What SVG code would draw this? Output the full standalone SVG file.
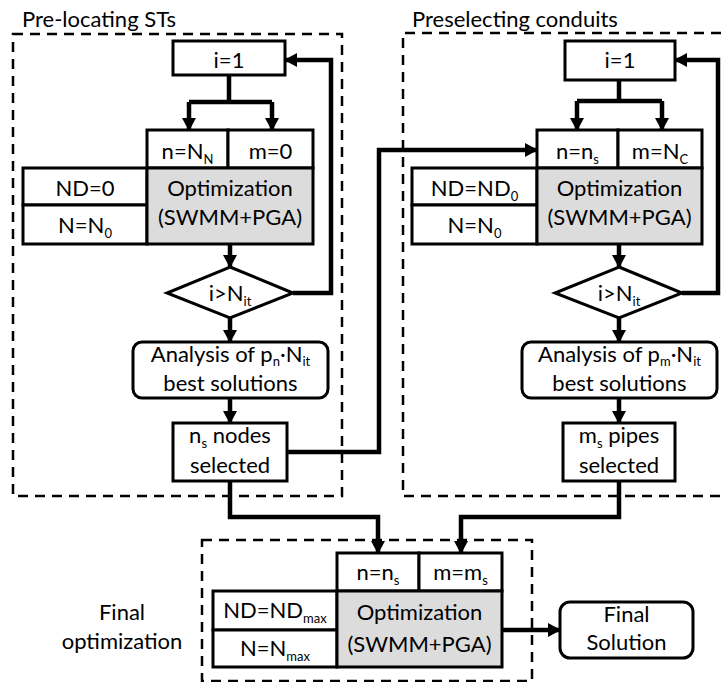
<svg xmlns="http://www.w3.org/2000/svg" width="721" height="682" viewBox="0 0 721 682">
<defs>
<marker id="ah" markerWidth="14" markerHeight="14" refX="12" refY="7" orient="auto" markerUnits="userSpaceOnUse"><path d="M0,0 L13,7 L0,14 Z" fill="#000"/></marker>
</defs>
<style>
.t{font-family:Lato,"Open Sans",sans-serif;font-size:22px;fill:#000;text-anchor:middle}
.title{text-anchor:start;font-size:22px}
.sub{font-size:13px}
.box{fill:#fff;stroke:#000;stroke-width:3}
.gray{fill:#dcdcdc;stroke:#000;stroke-width:3}
.dash{fill:none;stroke:#000;stroke-width:2.5;stroke-dasharray:10 7}
.c{fill:none;stroke:#000;stroke-width:4.5}
.ca{fill:none;stroke:#000;stroke-width:4.5;marker-end:url(#ah)}
</style>

<g id="frames">
<rect class="dash" x="13" y="34" width="329" height="462"/>
<path class="dash" d="M721,33 H403 V496 H721"/>
<rect class="dash" x="202" y="540" width="330" height="141"/>
<text class="t title" x="22" y="27">Pre-locating STs</text>
<text class="t title" x="412" y="27">Preselecting conduits</text>
<text class="t" x="122" y="620">Final</text>
<text class="t" x="122" y="649">optimization</text>
</g>

<g id="connectors">
<path class="c" d="M229,75 V102 M189,102 H272"/>
<path class="ca" d="M189,102 V130"/>
<path class="ca" d="M272,102 V130"/>
<path class="ca" d="M230,244 V267"/>
<path class="ca" d="M293,293 H331 V60 H285"/>
<path class="ca" d="M230,318 V342"/>
<path class="ca" d="M230,398 V423"/>
<path class="ca" d="M287,452 H379 V150 H537"/>
<path class="c" d="M619,80 V101 M577,101 H662"/>
<path class="ca" d="M577,101 V130"/>
<path class="ca" d="M662,101 V130"/>
<path class="ca" d="M619,244 V267"/>
<path class="ca" d="M682,293 H718 V60 H675"/>
<path class="ca" d="M619,318 V342"/>
<path class="ca" d="M619,398 V423"/>
<path class="ca" d="M230,481 V517 H378 V553"/>
<path class="ca" d="M619,481 V517 H461 V553"/>
<path class="ca" d="M502,630 H560"/>
</g>

<g id="left-i1"><rect class="box" x="173" y="41" width="112" height="34"/><text class="t" x="229" y="68">i=1</text></g>
<g id="left-n"><rect class="box" x="147" y="130" width="81" height="38"/><text class="t" x="187.5" y="159">n=N<tspan class="sub" dy="5">N</tspan></text></g>
<g id="left-m"><rect class="box" x="228" y="130" width="85" height="38"/><text class="t" x="270.5" y="159">m=0</text></g>
<g id="left-nd"><rect class="box" x="23" y="168" width="124" height="37"/><text class="t" x="85" y="196">ND=0</text></g>
<g id="left-N"><rect class="box" x="23" y="205" width="124" height="39"/><text class="t" x="85" y="233">N=N<tspan class="sub" dy="5">0</tspan></text></g>
<g id="left-opt"><rect class="gray" x="147" y="168" width="166" height="76"/><text class="t" x="230" y="196">Optimization</text><text class="t" x="230" y="225">(SWMM+PGA)</text></g>
<g id="left-dec"><polygon class="box" points="230,267 293,293 230,318 167,293"/><text class="t" x="230" y="301">i&gt;N<tspan class="sub" dy="5">it</tspan></text></g>
<g id="left-ana"><rect class="box" x="133" y="342" width="195" height="56" rx="9"/><text class="t" x="230.5" y="362">Analysis of p<tspan class="sub" dy="4">n</tspan><tspan dy="-4">·N</tspan><tspan class="sub" dy="4">it</tspan></text><text class="t" x="230.5" y="391">best solutions</text></g>
<g id="left-sel"><rect class="box" x="173" y="423" width="114" height="58"/><text class="t" x="230" y="443">n<tspan class="sub" dy="5">s</tspan><tspan dy="-5"> nodes</tspan></text><text class="t" x="230" y="473">selected</text></g>

<g id="right-i1"><rect class="box" x="565" y="41" width="110" height="39"/><text class="t" x="620" y="68">i=1</text></g>
<g id="right-n"><rect class="box" x="537" y="130" width="81" height="38"/><text class="t" x="577.5" y="159">n=n<tspan class="sub" dy="5">s</tspan></text></g>
<g id="right-m"><rect class="box" x="618" y="130" width="84" height="38"/><text class="t" x="660" y="159">m=N<tspan class="sub" dy="5">C</tspan></text></g>
<g id="right-nd"><rect class="box" x="412" y="168" width="125" height="37"/><text class="t" x="474.5" y="196">ND=ND<tspan class="sub" dy="5">0</tspan></text></g>
<g id="right-N"><rect class="box" x="412" y="205" width="125" height="39"/><text class="t" x="474.5" y="233">N=N<tspan class="sub" dy="5">0</tspan></text></g>
<g id="right-opt"><rect class="gray" x="537" y="168" width="165" height="76"/><text class="t" x="619.5" y="196">Optimization</text><text class="t" x="619.5" y="225">(SWMM+PGA)</text></g>
<g id="right-dec"><polygon class="box" points="619,267 682,293 619,318 555,293"/><text class="t" x="619" y="301">i&gt;N<tspan class="sub" dy="5">it</tspan></text></g>
<g id="right-ana"><rect class="box" x="522" y="342" width="195" height="56" rx="9"/><text class="t" x="619.5" y="362">Analysis of p<tspan class="sub" dy="4">m</tspan><tspan dy="-4">·N</tspan><tspan class="sub" dy="4">it</tspan></text><text class="t" x="619.5" y="391">best solutions</text></g>
<g id="right-sel"><rect class="box" x="563" y="423" width="112" height="58"/><text class="t" x="619" y="443">m<tspan class="sub" dy="5">s</tspan><tspan dy="-5"> pipes</tspan></text><text class="t" x="619" y="473">selected</text></g>

<g id="final-n"><rect class="box" x="337" y="553" width="82" height="38"/><text class="t" x="378" y="580">n=n<tspan class="sub" dy="5">s</tspan></text></g>
<g id="final-m"><rect class="box" x="419" y="553" width="83" height="38"/><text class="t" x="460.5" y="580">m=m<tspan class="sub" dy="5">s</tspan></text></g>
<g id="final-nd"><rect class="box" x="213" y="591" width="124" height="39"/><text class="t" x="275" y="618">ND=ND<tspan class="sub" dy="5">max</tspan></text></g>
<g id="final-N"><rect class="box" x="213" y="630" width="124" height="37"/><text class="t" x="275" y="656">N=N<tspan class="sub" dy="5">max</tspan></text></g>
<g id="final-opt"><rect class="gray" x="337" y="591" width="165" height="76"/><text class="t" x="419.5" y="620">Optimization</text><text class="t" x="419.5" y="652">(SWMM+PGA)</text></g>
<g id="final-sol"><rect class="box" x="560" y="602" width="133" height="56" rx="10"/><text class="t" x="626.5" y="622">Final</text><text class="t" x="626.5" y="650">Solution</text></g>
</svg>
